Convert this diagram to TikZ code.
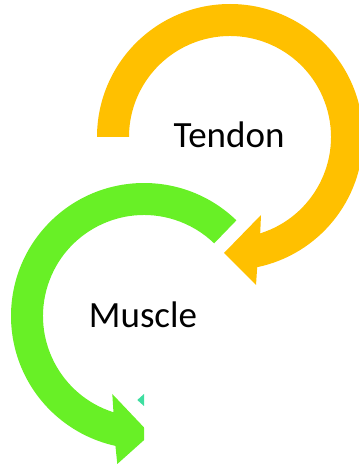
\documentclass[tikz,border=0pt]{standalone}
\usepackage{fontspec}
\setmainfont{Carlito}
\usepackage{tikz}
\usetikzlibrary{calc}
\definecolor{TendonGold}{RGB}{255,192,0}
\definecolor{MuscleGreen}{RGB}{104,240,38}
\definecolor{CycleTeal}{RGB}{62,222,160}

\begin{document}
\begin{tikzpicture}[x=1pt,y=1pt,word/.style={anchor=base,font=\fontsize{37}{44}\selectfont}]
  \useasboundingbox (0,0) rectangle (359,467);
  \coordinate (tc) at (230,330);
  \coordinate (mc) at (144,151);
  % tendon arrow, clockwise
  \fill[TendonGold] ($(tc)+(180:133)$) arc[start angle=180,end angle=-78.2,radius=133]
    -- (256,182) -- (224,214) -- (261,252)
    -- ($(tc)+(-72.6:101)$) arc[start angle=-72.6,end angle=180,radius=101] -- cycle;
  % muscle arrow, counterclockwise, cut on the right
  \begin{scope}
    \clip (0,0) -- (144,0) -- (144,87) -- (359,87) -- (359,467) -- (0,467) -- cycle;
    \fill[MuscleGreen] ($(mc)+(46:133)$) arc[start angle=46,end angle=257.6,radius=133]
      -- (117.3,3) -- (150.5,32.7) -- (112.3,73)
      -- ($(mc)+(252.4:101)$) arc[start angle=252.4,end angle=46,radius=101] -- cycle;
  \end{scope}
  \fill[CycleTeal] (137.3,67) -- (144,73) -- (144,61) -- cycle;
  \node[word] (tendon) at (229,319) {Tendon};
  \node[word] (muscle) at (143,139.3) {Muscle};
\end{tikzpicture}
\end{document}
